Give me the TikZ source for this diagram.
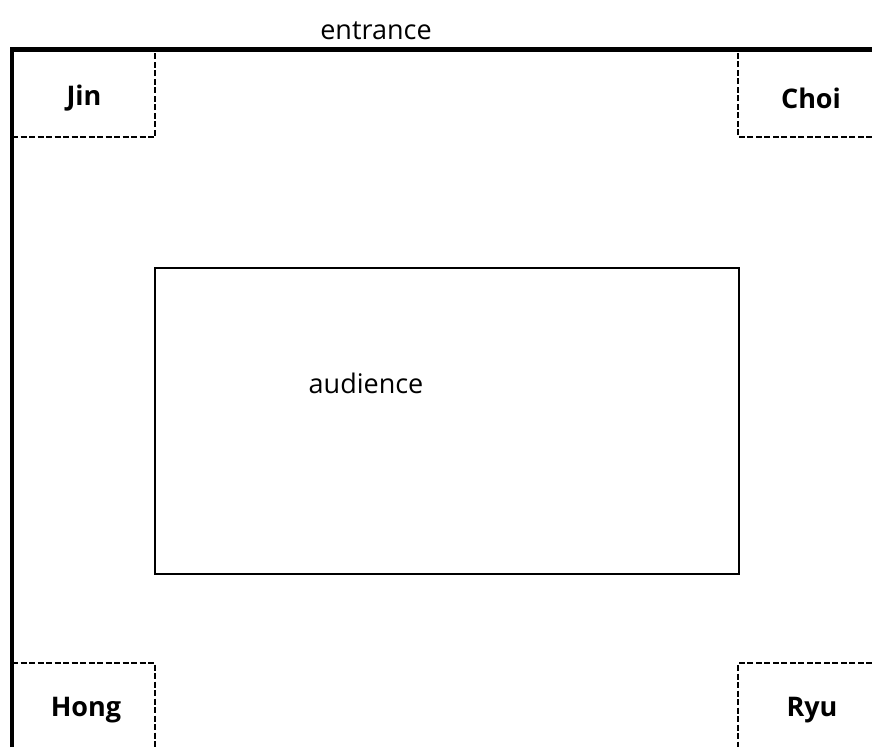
\documentclass[tikz,border=0pt]{standalone}
\usepackage{fontspec}
\setmainfont{Open Sans}
\begin{document}
\begin{tikzpicture}[x=1pt,y=-1pt,
  wall/.style={line width=4.5pt},
  booth/.style={line width=2.6pt, dash pattern=on 6pt off 2.5pt},
  hall/.style={line width=2.6pt},
  lbl/.style={font=\fontsize{27}{32}\selectfont, inner sep=0pt},
  person/.style={font=\fontsize{27}{32}\selectfont\bfseries, inner sep=0pt}]
\useasboundingbox (0,0) rectangle (872,747);
% outer walls
\draw[wall] (12,747) -- (12,49.5) -- (872,49.5);
% booths
\draw[booth] (12,137) -- (155,137) -- (155,51.5);
\draw[booth] (872,137) -- (738,137) -- (738,51.5);
\draw[booth] (12,663) -- (155,663) -- (155,747);
\draw[booth] (872,663) -- (738,663) -- (738,747);
% audience area
\draw[hall] (155,268) rectangle (739,574);
% labels
\node[lbl] (entrance) at (376,31) {entrance};
\node[lbl] (audience) at (366,383) {audience};
\node[person] (jin) at (84,98) {Jin};
\node[person] (choi) at (811,98) {Choi};
\node[person] (hong) at (86,710) {Hong};
\node[person] (ryu) at (812,710) {Ryu};
\end{tikzpicture}
\end{document}
